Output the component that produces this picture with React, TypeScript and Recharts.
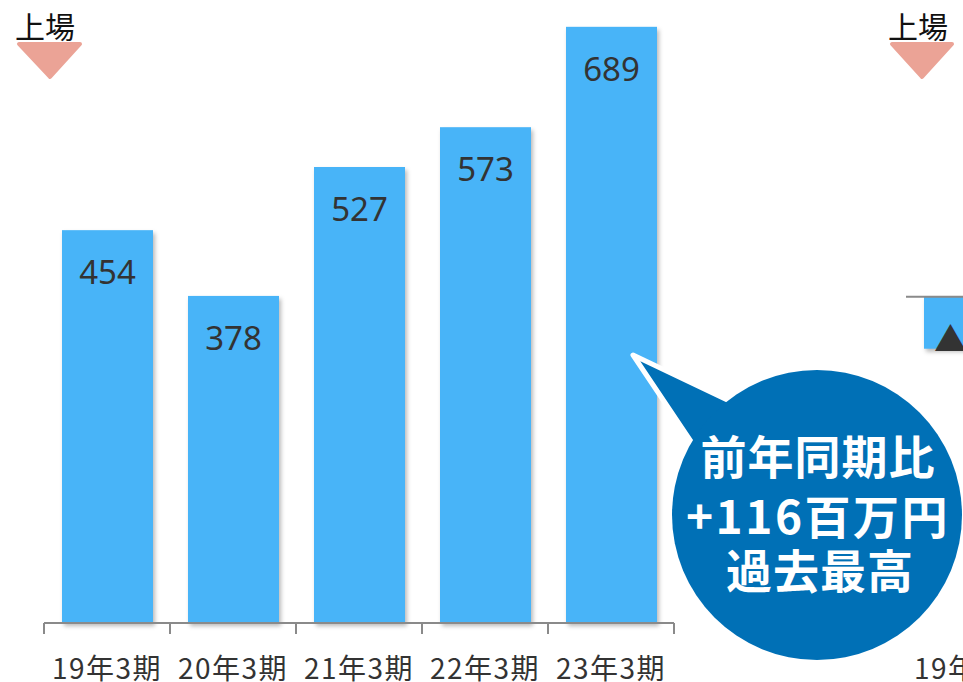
import React from 'react';
import { BarChart, Bar, XAxis, YAxis, LabelList, ReferenceLine } from 'recharts';

const categories = ['19年3期', '20年3期', '21年3期', '22年3期', '23年3期'];
const values = [454, 378, 527, 573, 689];
const nextCategories = ['19年3期'];
const nextValues = [-60];
const nextLabels = ['▲60'];
const calloutLines = ['前年同期比', '+116百万円', '過去最高'];
const headerLabel = '上場';

const data = categories.map((c, i) => ({ cat: c, v: values[i] }));
const nextData = nextCategories.map((c, i) => ({ cat: c, v: nextValues[i], label: nextLabels[i] }));

const BAR = '#48B4F8';
const AXIS = '#8a8a8a';
const TEXT = '#333333';
const LATIN = "'Noto Sans','Noto Sans CJK JP',sans-serif";
const CJK = "'Noto Sans CJK JP','Noto Sans',sans-serif";

const BarShape = (p: any) => {
  const y = Math.min(p.y, p.y + p.height);
  const h = Math.abs(p.height);
  return (
    <rect
      x={p.x}
      y={y}
      width={p.width}
      height={h}
      fill={BAR}
      style={{ filter: 'drop-shadow(2px 3px 2px rgba(0,0,0,0.28))' }}
    />
  );
};

const TopLabel = (p: any) => {
  const vb = p.viewBox || p;
  const x = vb.x ?? p.x;
  const y = vb.y ?? p.y;
  const w = vb.width ?? p.width;
  const h = vb.height ?? p.height;
  const top = Math.min(y, y + h);
  return (
    <text x={x + w / 2} y={top + 54} textAnchor="middle" fontSize={33} fill={TEXT} fontFamily={LATIN}>
      {p.value}
    </text>
  );
};

const makeTick = (withBoundaries: boolean) => (p: any) => {
  const { x, y, payload, index, visibleTicksCount, width } = p;
  const half = payload && payload.offset ? payload.offset : width / visibleTicksCount / 2;
  const left = x - half;
  const right = x + half;
  return (
    <g>
      {withBoundaries && <line x1={left} y1={y} x2={left} y2={y + 11} stroke={AXIS} strokeWidth={2} />}
      {withBoundaries && index === visibleTicksCount - 1 && (
        <line x1={right} y1={y} x2={right} y2={y + 11} stroke={AXIS} strokeWidth={2} />
      )}
      <text x={x} y={y + 56} textAnchor="middle" fontSize={28} fill={TEXT} fontFamily={CJK} letterSpacing={1.5}>
        {payload.value}
      </text>
    </g>
  );
};

const MainTick = makeTick(true);
const NextTick = makeTick(false);

export default function App() {
  return (
    <div style={{ position: 'absolute', left: 0, top: 0, width: 963, height: 682, overflow: 'hidden', background: '#fff' }}>
      <div style={{ position: 'absolute', left: 0, top: 0 }}>
        <BarChart width={963} height={682} data={data} margin={{ top: 0, right: 289, bottom: 0, left: 44 }}>
          <XAxis
            dataKey="cat"
            height={59}
            axisLine={{ stroke: AXIS, strokeWidth: 2 }}
            tickLine={false}
            tickSize={0}
            tickMargin={0}
            tick={MainTick}
            interval={0}
          />
          <YAxis hide domain={[0, 720]} />
          <Bar dataKey="v" barSize={91} shape={BarShape} isAnimationActive={false}>
            <LabelList dataKey="v" content={TopLabel} />
          </Bar>
        </BarChart>
      </div>
      <div style={{ position: 'absolute', left: 900, top: 0 }}>
        <BarChart width={132} height={682} data={nextData} margin={{ top: 0, right: 0, bottom: 0, left: 6 }}>
          <XAxis
            xAxisId="a"
            dataKey="cat"
            height={59}
            axisLine={false}
            tickLine={false}
            tickSize={0}
            tickMargin={0}
            tick={NextTick}
            interval={0}
          />
          <XAxis xAxisId="b" type="number" domain={[0, 1]} hide />
          <YAxis hide domain={[-377, 343]} />
          <ReferenceLine xAxisId="b" y={0} stroke={AXIS} strokeWidth={2} />
          <ReferenceLine
            xAxisId="b"
            segment={[{ x: 0, y: 1 }, { x: 0, y: -10 }]}
            stroke={AXIS}
            strokeWidth={2}
          />
          <Bar xAxisId="a" dataKey="v" barSize={91} shape={BarShape} isAnimationActive={false}>
            <LabelList dataKey="label" content={TopLabel} />
          </Bar>
        </BarChart>
      </div>
      <svg width={963} height={682} style={{ position: 'absolute', left: 0, top: 0, pointerEvents: 'none' }}>
        <text x={15} y={38} fontSize={30} fill="#111" fontFamily={CJK}>{headerLabel}</text>
        <polygon points="19,44 80,44 50,77" fill="#EBA396" stroke="#EBA396" strokeWidth={4} strokeLinejoin="round" />
        <text x={888} y={38} fontSize={30} fill="#111" fontFamily={CJK}>{headerLabel}</text>
        <polygon points="892,44 952,44 922,77" fill="#EBA396" stroke="#EBA396" strokeWidth={4} strokeLinejoin="round" />
        <path d="M633,355 L740,406 L700,455 Z" fill="#0070B6" stroke="#fff" strokeWidth={5} strokeLinejoin="round" />
        <circle cx={817} cy={515} r={145} fill="#0070B6" />
        <text x={818} y={474} textAnchor="middle" fontSize={46} fontWeight="bold" fill="#fff" fontFamily={CJK} letterSpacing={1}>{calloutLines[0]}</text>
        <text x={818} y={534} textAnchor="middle" fontSize={46} fontWeight="bold" fill="#fff" fontFamily={CJK} letterSpacing={2.5}>{calloutLines[1]}</text>
        <text x={820} y={588} textAnchor="middle" fontSize={46} fontWeight="bold" fill="#fff" fontFamily={CJK} letterSpacing={1}>{calloutLines[2]}</text>
      </svg>
    </div>
  );
}
